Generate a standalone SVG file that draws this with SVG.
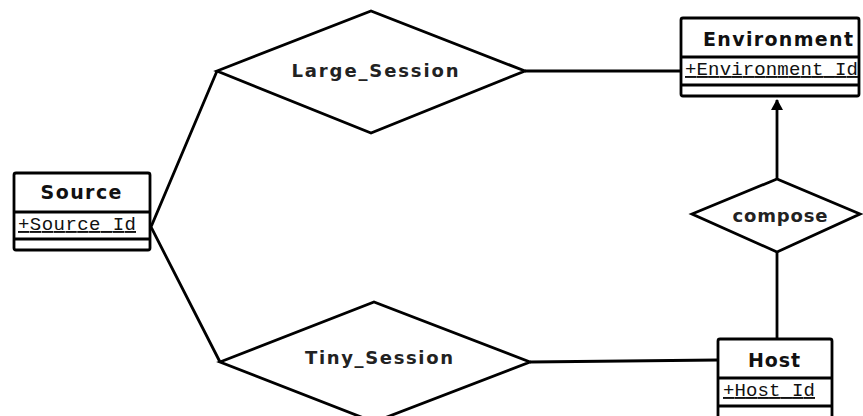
<svg xmlns="http://www.w3.org/2000/svg" width="863" height="416" viewBox="0 0 863 416">
  <style>
    .box { fill: #ffffff; stroke: #000000; stroke-width: 2.8; }
    .div { stroke: #000000; stroke-width: 2.8; }
    .rel { fill: #ffffff; stroke: #000000; stroke-width: 2.8; stroke-linejoin: miter; }
    .edge { fill: none; stroke: #000000; stroke-width: 2.8; }
    .title { font-family: "DejaVu Sans", sans-serif; font-weight: bold; font-size: 19px; fill: #111111; text-anchor: middle; }
    .attr { font-family: "Liberation Mono", monospace; font-size: 19px; fill: #111111; text-decoration: underline; }
    .label { font-family: "DejaVu Sans", sans-serif; font-weight: bold; font-size: 18px; fill: #222222; text-anchor: middle; }
  </style>
  <defs>
    <marker id="arrow" markerWidth="12" markerHeight="12" refX="10" refY="6" orient="auto" markerUnits="userSpaceOnUse">
      <path d="M0,0 L11,6 L0,12 Z" fill="#000000"/>
    </marker>
  </defs>
  <rect width="863" height="416" fill="#ffffff"/>

  <g id="connectors">
    <polyline class="edge" points="217,71 151,227 220,362"/>
    <line class="edge" x1="525" y1="71" x2="681" y2="71"/>
    <line class="edge" x1="530" y1="362" x2="718" y2="360"/>
    <line class="edge" x1="777" y1="252" x2="777" y2="339"/>
    <line class="edge" x1="777" y1="179" x2="777" y2="100" marker-end="url(#arrow)"/>
  </g>

  <g id="source">
    <rect class="box" x="14" y="173" width="136" height="77" rx="2"/>
    <line class="div" x1="14" y1="212" x2="150" y2="212"/>
    <line class="div" x1="14" y1="239" x2="150" y2="239"/>
    <text class="title" x="81" y="199" textLength="81" lengthAdjust="spacing">Source</text>
    <text class="attr" x="18" y="230" textLength="118" lengthAdjust="spacing">+Source_Id</text>
  </g>

  <g id="environment">
    <rect class="box" x="681" y="18" width="178" height="78" rx="2"/>
    <line class="div" x1="681" y1="57" x2="859" y2="57"/>
    <line class="div" x1="681" y1="85" x2="859" y2="85"/>
    <text class="title" x="778" y="46" textLength="150" lengthAdjust="spacing">Environment</text>
    <text class="attr" x="685" y="75" textLength="173" lengthAdjust="spacing">+Environment_Id</text>
  </g>

  <g id="host">
    <rect class="box" x="718" y="339" width="114" height="90" rx="2"/>
    <line class="div" x1="718" y1="378" x2="832" y2="378"/>
    <line class="div" x1="718" y1="406" x2="832" y2="406"/>
    <text class="title" x="774" y="367" textLength="52" lengthAdjust="spacing">Host</text>
    <text class="attr" x="723" y="396" textLength="92" lengthAdjust="spacing">+Host_Id</text>
  </g>

  <g id="large_session">
    <polygon class="rel" points="217,71 371,11 525,71 371,133"/>
    <text class="label" x="375" y="77" textLength="167" lengthAdjust="spacing">Large_Session</text>
  </g>

  <g id="tiny_session">
    <polygon class="rel" points="220,362 374,302 530,362 374,422"/>
    <text class="label" x="379" y="364" textLength="148" lengthAdjust="spacing">Tiny_Session</text>
  </g>

  <g id="compose">
    <polygon class="rel" points="692,214 777,179 860,214 777,252"/>
    <text class="label" x="780" y="222" textLength="95" lengthAdjust="spacing">compose</text>
  </g>
</svg>
